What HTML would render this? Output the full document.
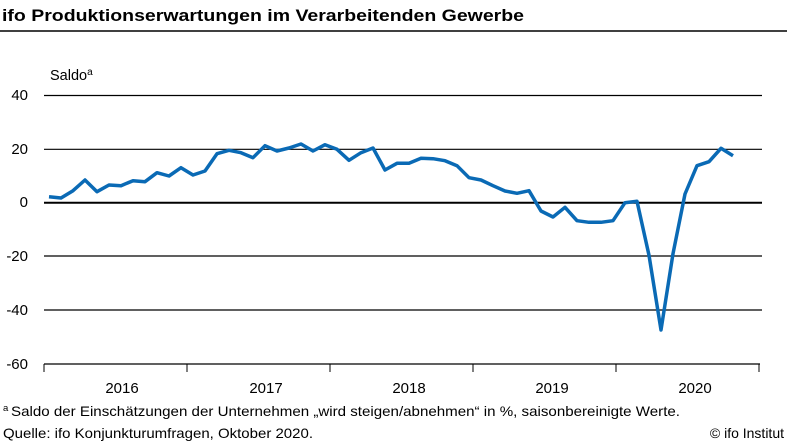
<!DOCTYPE html>
<html><head><meta charset="utf-8"><style>
body{margin:0;background:#fff;}
svg{display:block;font-family:"Liberation Sans",sans-serif;}
</style></head><body>
<svg width="787" height="443" viewBox="0 0 787 443" xmlns="http://www.w3.org/2000/svg">
<text x="2" y="21" font-size="16.5" font-weight="bold" fill="#000" textLength="522" lengthAdjust="spacingAndGlyphs">ifo Produktionserwartungen im Verarbeitenden Gewerbe</text>
<line x1="0" y1="31" x2="787" y2="31" stroke="#000" stroke-width="1.5"/>
<text x="50" y="80" font-size="14.5" fill="#000">Saldo<tspan font-size="10" dy="-5">a</tspan></text>
<g stroke="#000" stroke-width="1.2">
<line x1="44" y1="95.5" x2="762" y2="95.5"/>
<line x1="44" y1="149.3" x2="762" y2="149.3"/>
<line x1="44" y1="256" x2="762" y2="256"/>
<line x1="44" y1="310" x2="762" y2="310"/>
</g>
<line x1="44" y1="202.7" x2="762" y2="202.7" stroke="#000" stroke-width="2"/>
<line x1="44" y1="364" x2="760" y2="364" stroke="#000" stroke-width="1.2"/>
<g stroke="#000" stroke-width="1">
<line x1="44" y1="364" x2="44" y2="372"/><line x1="187" y1="364" x2="187" y2="372"/>
<line x1="330" y1="364" x2="330" y2="372"/><line x1="473" y1="364" x2="473" y2="372"/>
<line x1="616" y1="364" x2="616" y2="372"/><line x1="759" y1="364" x2="759" y2="372"/>
</g>
<g font-size="15" fill="#000" text-anchor="end">
<text x="28" y="100">40</text><text x="28" y="154">20</text><text x="28" y="207">0</text>
<text x="28" y="261">-20</text><text x="28" y="315">-40</text><text x="28" y="369">-60</text>
</g>
<g font-size="15" fill="#000" text-anchor="middle">
<text x="122" y="393">2016</text><text x="266" y="393">2017</text><text x="409" y="393">2018</text>
<text x="552" y="393">2019</text><text x="695" y="393">2020</text>
</g>
<polyline fill="none" stroke="#0a6ab5" stroke-width="3.5" stroke-linejoin="round" points="
49,196.7 61,198 73,190.7 85,180 97,191.7 109,185 121,185.7 133,180.7 145,181.7 157,172.7 169,176 181,167.7 193,175 205,171 217,153.7 229,150.3 241,152.7 253,157.7 265,145.7 277,151 289,148 301,144 313,151 325,144.7 337,149.3 349,160.3 361,152.7 373,148 385,170 397,163.3
409,163.3 421,158.3 433,158.7 445,160.7 457,165.7 469,177.7 481,180 493,185.7 505,191 517,193.3 529,190.7 541,211 553,217 565,207.3 577,220.7 589,222.3 601,222.3 613,220.7 625,202.7 637,201.3 649,255.3 661,330 673,253.7 685,194 697,165.7 709,161.7 721,148.3 733,155.7"/>
<text x="3" y="411" font-size="9.5" fill="#000">a</text>
<text x="11" y="416" font-size="14" fill="#000" textLength="669" lengthAdjust="spacingAndGlyphs">Saldo der Einschätzungen der Unternehmen „wird steigen/abnehmen“ in %, saisonbereinigte Werte.</text>
<text x="3" y="438" font-size="14" fill="#000" textLength="310" lengthAdjust="spacingAndGlyphs">Quelle: ifo Konjunkturumfragen, Oktober 2020.</text>
<text x="784" y="438" font-size="14" fill="#000" text-anchor="end">© ifo Institut</text>
</svg>
</body></html>
